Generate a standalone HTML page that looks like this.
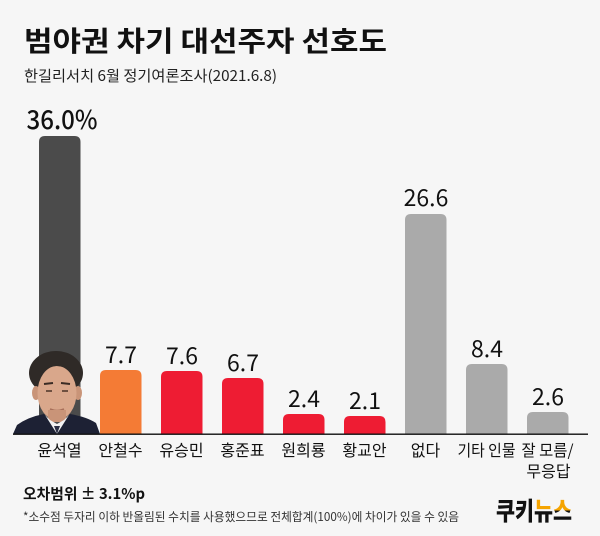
<!DOCTYPE html>
<html>
<head>
<meta charset="utf-8">
<style>
html,body{margin:0;padding:0;background:#f6f6f6;}
svg{display:block;}
text{font-family:"Liberation Sans","Noto Sans CJK KR",sans-serif;}
.k{font-family:"Noto Sans CJK KR","Liberation Sans",sans-serif;}
</style>
</head>
<body>
<svg width="600" height="536" viewBox="0 0 600 536" xmlns="http://www.w3.org/2000/svg">
  <defs>
    <linearGradient id="lg" gradientUnits="userSpaceOnUse" x1="0" y1="497" x2="0" y2="523">
      <stop offset="0" stop-color="#f5a400"/>
      <stop offset="0.52" stop-color="#f5a400"/>
      <stop offset="0.52" stop-color="#111"/>
      <stop offset="1" stop-color="#111"/>
    </linearGradient>
  </defs>
  <rect x="0" y="0" width="600" height="536" fill="#f6f6f6"/>

  <!-- Title -->
  <text class="k" x="24" y="51" font-size="28" font-weight="700" fill="#111" textLength="363" lengthAdjust="spacingAndGlyphs">범야권 차기 대선주자 선호도</text>
  <text class="k" x="24" y="81" font-size="15" fill="#222" textLength="253" lengthAdjust="spacingAndGlyphs">한길리서치 6월 정기여론조사(2021.6.8)</text>

  <!-- Bars -->
  <g>
    <path d="M39,434 V142 Q39,136 45,136 H74.5 Q80.5,136 80.5,142 V434 Z" fill="#4b4b4b"/>
    <path d="M100,434 V376 Q100,370 106,370 H135.5 Q141.5,370 141.5,376 V434 Z" fill="#f47b35"/>
    <path d="M161,434 V377 Q161,371 167,371 H196.5 Q202.5,371 202.5,377 V434 Z" fill="#ee1c33"/>
    <path d="M222,434 V384 Q222,378 228,378 H257.5 Q263.5,378 263.5,384 V434 Z" fill="#ee1c33"/>
    <path d="M283,434 V420 Q283,414 289,414 H318.5 Q324.5,414 324.5,420 V434 Z" fill="#ee1c33"/>
    <path d="M344,434 V422 Q344,416 350,416 H379.5 Q385.5,416 385.5,422 V434 Z" fill="#ee1c33"/>
    <path d="M405,434 V220 Q405,214 411,214 H440.5 Q446.5,214 446.5,220 V434 Z" fill="#aaaaaa"/>
    <path d="M466,434 V370 Q466,364 472,364 H501.5 Q507.5,364 507.5,370 V434 Z" fill="#aaaaaa"/>
    <path d="M527,434 V418 Q527,412 533,412 H562.5 Q568.5,412 568.5,418 V434 Z" fill="#aaaaaa"/>
  </g>

  <!-- Portrait (illustrative) -->
  <g>
    <ellipse cx="56" cy="373" rx="27" ry="22" fill="#2f2a27"/>
    <ellipse cx="36" cy="393" rx="4" ry="7" fill="#c99478"/>
    <ellipse cx="78" cy="393" rx="4" ry="7" fill="#c99478"/>
    <ellipse cx="57" cy="393" rx="19.5" ry="27" fill="#d9a78b"/>
    <path d="M40,372 Q56,360 74,372 Q70,366 57,364 Q44,365 40,372 Z" fill="#2f2a27"/>
    <path d="M44,384 L53,383 M61,383 L70,384" stroke="#3a2b24" stroke-width="2"/>
    <path d="M46,391 L52,391 M62,391 L68,391" stroke="#4a3328" stroke-width="1.6"/>
    <path d="M50,409 Q57,412 64,409" stroke="#a8705a" stroke-width="1.5" fill="none"/>
    <rect x="48" y="410" width="18" height="12" fill="#c99478"/>
    <path d="M13,434 L17,425 Q28,417 44,414 L57,428 L70,414 Q87,417 96,423 L100,434 Z" fill="#1d2134"/>
    <path d="M45,415 L57,434 L69,415 L64,420 L57,424 L50,420 Z" fill="#f2f2f2"/>
    <path d="M54,426 L57,434 L60,426 Z" fill="#2a2e44"/>
  </g>

  <!-- Baseline -->
  <rect x="13" y="433.5" width="575" height="1.4" fill="#111"/>

  <!-- Values -->
  <g fill="#111" text-anchor="middle">
    <text class="k" x="62" y="129" font-size="26" font-weight="500" textLength="71" lengthAdjust="spacingAndGlyphs">36.0%</text>
    <text class="k" x="121" y="363" font-size="23">7.7</text>
    <text class="k" x="182" y="364" font-size="23">7.6</text>
    <text class="k" x="243" y="371" font-size="23">6.7</text>
    <text class="k" x="304" y="407" font-size="23">2.4</text>
    <text class="k" x="365" y="409" font-size="23">2.1</text>
    <text class="k" x="426" y="206" font-size="23">26.6</text>
    <text class="k" x="487" y="357" font-size="23">8.4</text>
    <text class="k" x="548" y="405" font-size="23">2.6</text>
  </g>

  <!-- Category labels -->
  <g fill="#111" text-anchor="middle" font-size="16">
    <text class="k" x="59.5" y="456">윤석열</text>
    <text class="k" x="120.5" y="456">안철수</text>
    <text class="k" x="181.5" y="456">유승민</text>
    <text class="k" x="242.5" y="456">홍준표</text>
    <text class="k" x="303.5" y="456">원희룡</text>
    <text class="k" x="364.5" y="456">황교안</text>
    <text class="k" x="425.5" y="456">없다</text>
    <text class="k" x="486.5" y="456" textLength="58" lengthAdjust="spacingAndGlyphs">기타 인물</text>
    <text class="k" x="547.5" y="456" textLength="52" lengthAdjust="spacingAndGlyphs">잘 모름/</text>
    <text class="k" x="548.5" y="477">무응답</text>
  </g>

  <!-- Footer -->
  <text class="k" x="23" y="499" font-size="15" font-weight="700" fill="#111" textLength="122" lengthAdjust="spacingAndGlyphs">오차범위 ± 3.1%p</text>
  <text class="k" x="23" y="521" font-size="12" fill="#333" textLength="436" lengthAdjust="spacingAndGlyphs">*소수점 두자리 이하 반올림된 수치를 사용했으므로 전체합계(100%)에 차이가 있을 수 있음</text>

  <!-- Logo -->
  <text class="k" x="496" y="520" font-size="25" font-weight="900" textLength="76" lengthAdjust="spacingAndGlyphs"><tspan fill="#111">쿠키</tspan><tspan fill="url(#lg)">뉴스</tspan></text>
</svg>
</body>
</html>
